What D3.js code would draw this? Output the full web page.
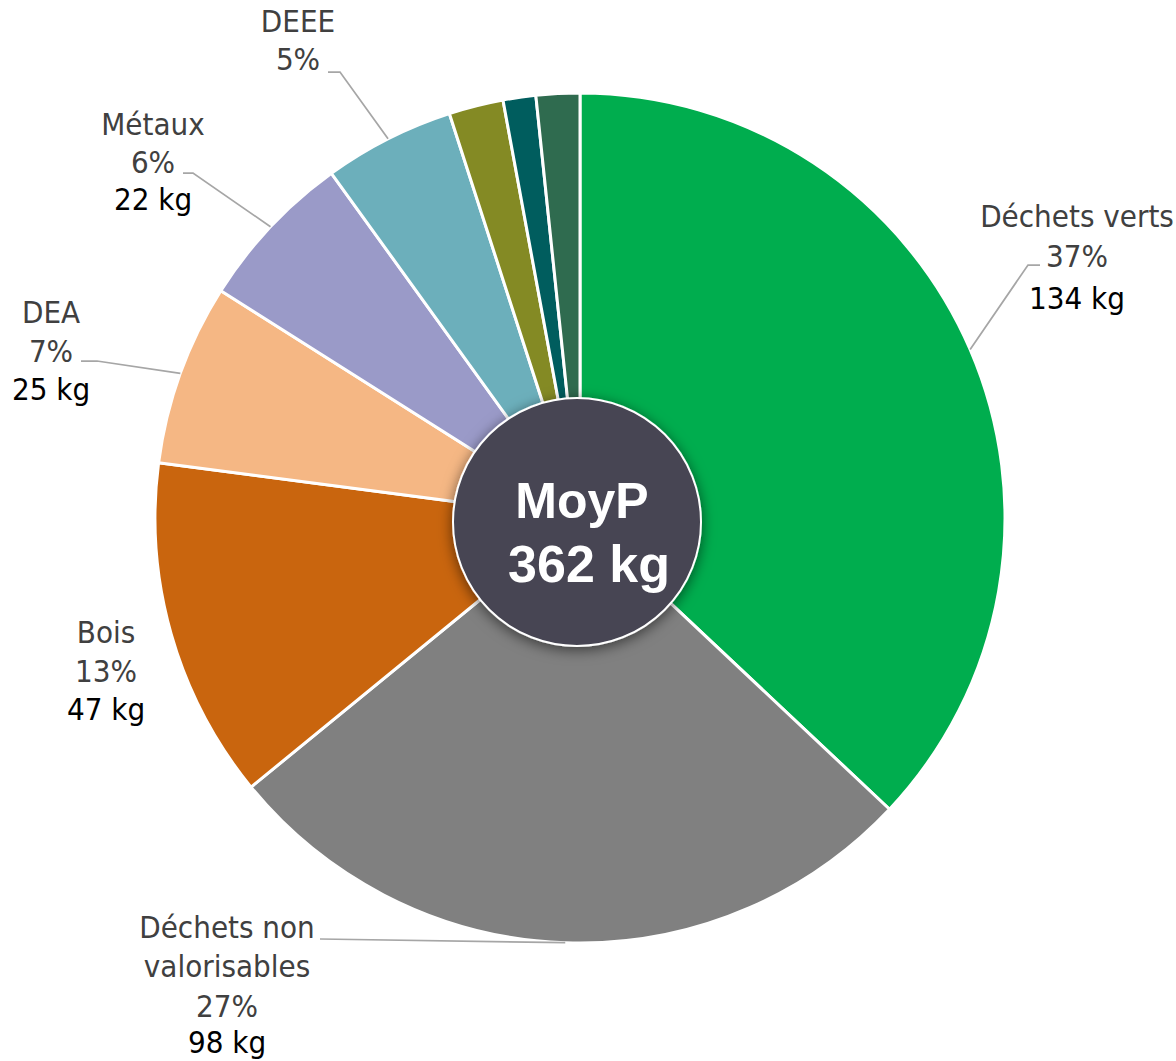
<!DOCTYPE html>
<html>
<head>
<meta charset="utf-8">
<script src="https://cdn.jsdelivr.net/npm/d3@7"></script>
<style>
  html, body { margin: 0; padding: 0; background: #ffffff; }
  svg { display: block; }
  .lbl { font-family: "DejaVu Sans Condensed", "DejaVu Sans", sans-serif; font-stretch: condensed; font-size: 31px; }
</style>
</head>
<body>
<script>
(function () {
    "use strict";

    // data (kg per category)
    var categories = ["Déchets verts", "Déchets non valorisables", "Bois", "DEA", "Métaux", "DEEE", "Autre 1", "Autre 2", "Autre 3"];
    var values = [134, 98, 47, 25, 22, 18, 7.5, 4.5, 6];
    var showKg = [true, true, true, true, true, false, false, false, false];
    var centerTitle = "MoyP";
    var centerUnit = " kg";

    var colors = ["#00ad4e", "#808080", "#c9650e", "#f5b784", "#9a9ac8", "#6cafbb", "#848a24", "#005d5e", "#2f6b4f"];

    // label layout: text centre, first baseline, line gaps, leader elbow/end
    var labelLayout = {
        "Déchets verts": {x: 1077, y: 227, lines: ["Déchets verts"], gaps: [40, 42], leader: [[1028, 265], [1040, 265]]},
        "Déchets non valorisables": {x: 227, y: 938, lines: ["Déchets non", "valorisables"], gaps: [39, 40, 36], leader: [[320, 939]]},
        "Bois": {x: 106, y: 643, lines: ["Bois"], gaps: [39, 38], leader: null},
        "DEA": {x: 51, y: 323, lines: ["DEA"], gaps: [39, 38], leader: [[97, 361], [81, 361]]},
        "Métaux": {x: 153, y: 135, lines: ["Métaux"], gaps: [38, 37], leader: [[193, 173], [183, 173]]},
        "DEEE": {x: 298, y: 32, lines: ["DEEE"], gaps: [38], leader: [[340, 72], [328, 72]]}
    };

    var width = 1176, height = 1061;
    var cx = 580, cy = 518, radius = 425;

    var total = d3.sum(values);

    var svg = d3.select("body").append("svg")
            .attr("width", width)
            .attr("height", height);

    var defs = svg.append("defs");
    defs.append("filter")
            .attr("id", "shadow")
            .attr("x", "-30%").attr("y", "-30%")
            .attr("width", "160%").attr("height", "160%")
            .append("feDropShadow")
            .attr("dx", 0).attr("dy", 3)
            .attr("stdDeviation", 7)
            .attr("flood-color", "#000")
            .attr("flood-opacity", 0.55);

    var pie = d3.pie().sort(null).value(function (d) { return d; });
    var arcs = pie(values);
    var arc = d3.arc().innerRadius(0).outerRadius(radius);

    var g = svg.append("g").attr("transform", "translate(" + cx + "," + cy + ")");

    g.selectAll("path.slice")
            .data(arcs)
            .enter().append("path")
            .attr("class", "slice")
            .attr("d", arc)
            .attr("fill", function (d, i) { return colors[i]; })
            .attr("stroke", "#ffffff")
            .attr("stroke-width", 3)
            .attr("stroke-linejoin", "round");

    // leader lines start at the slice's mid angle on the rim
    arcs.forEach(function (a, i) {
        var lay = labelLayout[categories[i]];
        if (!lay || !lay.leader) return;
        var mid = (a.startAngle + a.endAngle) / 2;
        var pts = [[cx + radius * Math.sin(mid), cy - radius * Math.cos(mid)]].concat(lay.leader);
        svg.append("path")
                .attr("d", d3.line()(pts))
                .attr("fill", "none")
                .attr("stroke", "#a6a6a6")
                .attr("stroke-width", 1.75);
    });

    // labels
    arcs.forEach(function (a, i) {
        var lay = labelLayout[categories[i]];
        if (!lay) return;
        var pct = Math.round(values[i] / total * 100) + "%";
        var rows = lay.lines.map(function (t) { return {t: t, c: "#404040"}; });
        rows.push({t: pct, c: "#404040"});
        if (showKg[i]) rows.push({t: values[i] + " kg", c: "#000000"});
        var y = lay.y;
        rows.forEach(function (r, k) {
            if (k > 0) y += lay.gaps[Math.min(k - 1, lay.gaps.length - 1)];
            svg.append("text")
                    .attr("class", "lbl")
                    .attr("x", lay.x)
                    .attr("y", y)
                    .attr("text-anchor", "middle")
                    .attr("fill", r.c)
                    .text(r.t);
        });
    });

    // centre badge
    svg.append("circle")
            .attr("cx", 577)
            .attr("cy", 522)
            .attr("r", 124)
            .attr("fill", "#464552")
            .attr("stroke", "#ffffff")
            .attr("stroke-width", 2)
            .attr("filter", "url(#shadow)");

    svg.append("text")
            .attr("x", 582)
            .attr("y", 518)
            .attr("text-anchor", "middle")
            .attr("fill", "#ffffff")
            .style("font-family", "'Liberation Sans', Arial, sans-serif")
            .style("font-weight", "bold")
            .style("font-size", "50px")
            .text(centerTitle);

    svg.append("text")
            .attr("x", 589)
            .attr("y", 582)
            .attr("text-anchor", "middle")
            .attr("fill", "#ffffff")
            .style("font-family", "'Liberation Sans', Arial, sans-serif")
            .style("font-weight", "bold")
            .style("font-size", "52px")
            .text(Math.round(total) + centerUnit);
})();
</script>
</body>
</html>
